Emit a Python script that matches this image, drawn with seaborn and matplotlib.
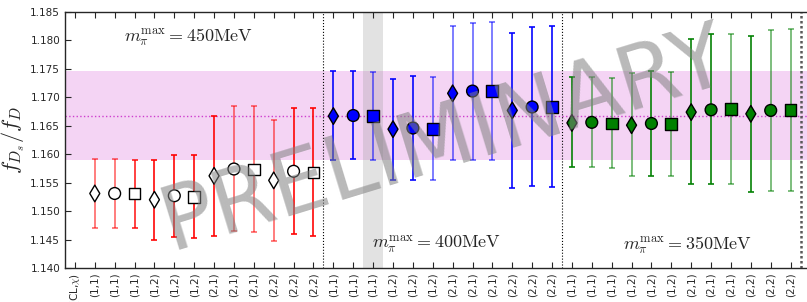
import numpy as np
import pandas as pd
import matplotlib
matplotlib.use("Agg")
import matplotlib.pyplot as plt
import seaborn as sns

# fit labels along the x axis
fit_labels = ['(CL,$\\chi$)'] + (['(1,1)'] * 3 + ['(1,2)'] * 3 + ['(2,1)'] * 3 + ['(2,2)'] * 3) * 3
shapes = ['d', 'o', 's'] * 12
groups = ['450'] * 12 + ['400'] * 12 + ['350'] * 12

# central values and error bar ends
central = [1.1531, 1.1531, 1.1531, 1.1520, 1.1527, 1.1525, 1.1562, 1.1574, 1.1573, 1.1554, 1.1570, 1.1568,
           1.1667, 1.1668, 1.1667, 1.1644, 1.1646, 1.1644, 1.1707, 1.1711, 1.1711, 1.1677, 1.1683, 1.1683,
           1.1655, 1.1656, 1.1654, 1.1651, 1.1654, 1.1653, 1.1674, 1.1678, 1.1679, 1.1671, 1.1677, 1.1678]
upper = [1.1591, 1.1591, 1.1590, 1.1590, 1.1599, 1.1598, 1.1668, 1.1684, 1.1684, 1.1661, 1.1681, 1.1681,
         1.1746, 1.1747, 1.1745, 1.1733, 1.1737, 1.1735, 1.1825, 1.1831, 1.1832, 1.1813, 1.1824, 1.1825,
         1.1735, 1.1736, 1.1734, 1.1742, 1.1747, 1.1745, 1.1803, 1.1811, 1.1812, 1.1808, 1.1818, 1.1820]
lower = [1.1470, 1.1471, 1.1470, 1.1450, 1.1454, 1.1453, 1.1457, 1.1465, 1.1464, 1.1447, 1.1459, 1.1457,
         1.1590, 1.1592, 1.1589, 1.1554, 1.1555, 1.1554, 1.1589, 1.1589, 1.1589, 1.1540, 1.1544, 1.1542,
         1.1577, 1.1578, 1.1576, 1.1561, 1.1562, 1.1561, 1.1547, 1.1547, 1.1548, 1.1534, 1.1536, 1.1536]

# final result band
final_value = 1.1667
final_low = 1.1589
final_high = 1.1746

bar_alpha = [0.55, 0.55, 0.8, 0.9, 0.9, 0.9, 0.9, 0.55, 0.55, 0.55, 0.9, 0.9,
             0.9, 0.9, 0.55, 0.9, 0.9, 0.55, 0.55, 0.55, 0.55, 0.9, 0.9, 0.9,
             0.9, 0.55, 0.55, 0.55, 0.9, 0.55, 0.9, 0.9, 0.55, 0.9, 0.55, 0.55]

df = pd.DataFrame({
    'x': np.arange(1, 37),
    'value': central,
    'low': lower,
    'high': upper,
    'shape': shapes,
    'group': groups,
})

sns.set_style('ticks')
plt.rcParams['mathtext.fontset'] = 'cm'
plt.rcParams['xtick.direction'] = 'in'
plt.rcParams['ytick.direction'] = 'in'
plt.rcParams['xtick.top'] = True

fig = plt.figure(figsize=(8.07, 3.02), dpi=100)
ax = fig.add_axes([0.0805, 0.1126, 0.9238, 0.8477])

# final band and highlighted fit
ax.axhspan(final_low, final_high, color='m', alpha=0.17, lw=0, zorder=0)
ax.axhline(final_value, color='m', ls=':', lw=1, alpha=0.7, zorder=1)
ax.axvspan(14.5, 15.5, color='0.6', alpha=0.28, lw=0, zorder=0)

bar_colors = {'450': 'r', '400': 'b', '350': 'g'}
for i, row in df.iterrows():
    ax.errorbar(row['x'], row['value'],
                yerr=[[row['value'] - row['low']], [row['high'] - row['value']]],
                fmt='none', ecolor=bar_colors[row['group']], alpha=bar_alpha[i],
                capsize=2.5, elinewidth=1.3, capthick=1.3, zorder=2)

sns.scatterplot(data=df, x='x', y='value', hue='group', style='shape',
                palette={'450': 'white', '400': 'b', '350': 'g'},
                markers={'d': 'd', 'o': 'o', 's': 's'},
                s=72, edgecolor='black', linewidth=1, legend=False, ax=ax, zorder=3)

for xv in [12.5, 24.5]:
    ax.axvline(xv, color='k', ls=':', lw=0.8, zorder=1)
ax.axvline(36.5, color='0.35', ls=(0, (1, 1)), lw=1.8, zorder=1)

ax.text(5.7, 1.1806, r'$m_\pi^{\rm max}=450{\rm MeV}$', ha='center', va='center', fontsize=13)
ax.text(18.2, 1.1441, r'$m_\pi^{\rm max}=400{\rm MeV}$', ha='center', va='center', fontsize=13)
ax.text(30.8, 1.1441, r'$m_\pi^{\rm max}=350{\rm MeV}$', ha='center', va='center', fontsize=13)

ax.text(18.6, 1.1624, 'PRELIMINARY', fontsize=64, color='0.5', alpha=0.55,
        rotation=17, ha='center', va='center', rotation_mode='anchor', zorder=10)

ax.set_xlim(-0.5, 37)
ax.set_ylim(1.140, 1.185)
ax.set_xticks(np.arange(37))
ax.set_xticklabels(fit_labels, rotation=90, fontsize=7.5)
ax.set_yticks(np.arange(1.140, 1.1851, 0.005))
ax.set_yticklabels(['%.3f' % v for v in np.arange(1.140, 1.1851, 0.005)], fontsize=7.5)
ax.tick_params(length=4, width=0.8)
ax.set_xlabel('')
ax.set_ylabel(r'$f_{D_s}/f_D$', fontsize=16, labelpad=2)
for sp in ax.spines.values():
    sp.set_visible(True)
    sp.set_linewidth(1)

fig.savefig('out.png', dpi=100)
